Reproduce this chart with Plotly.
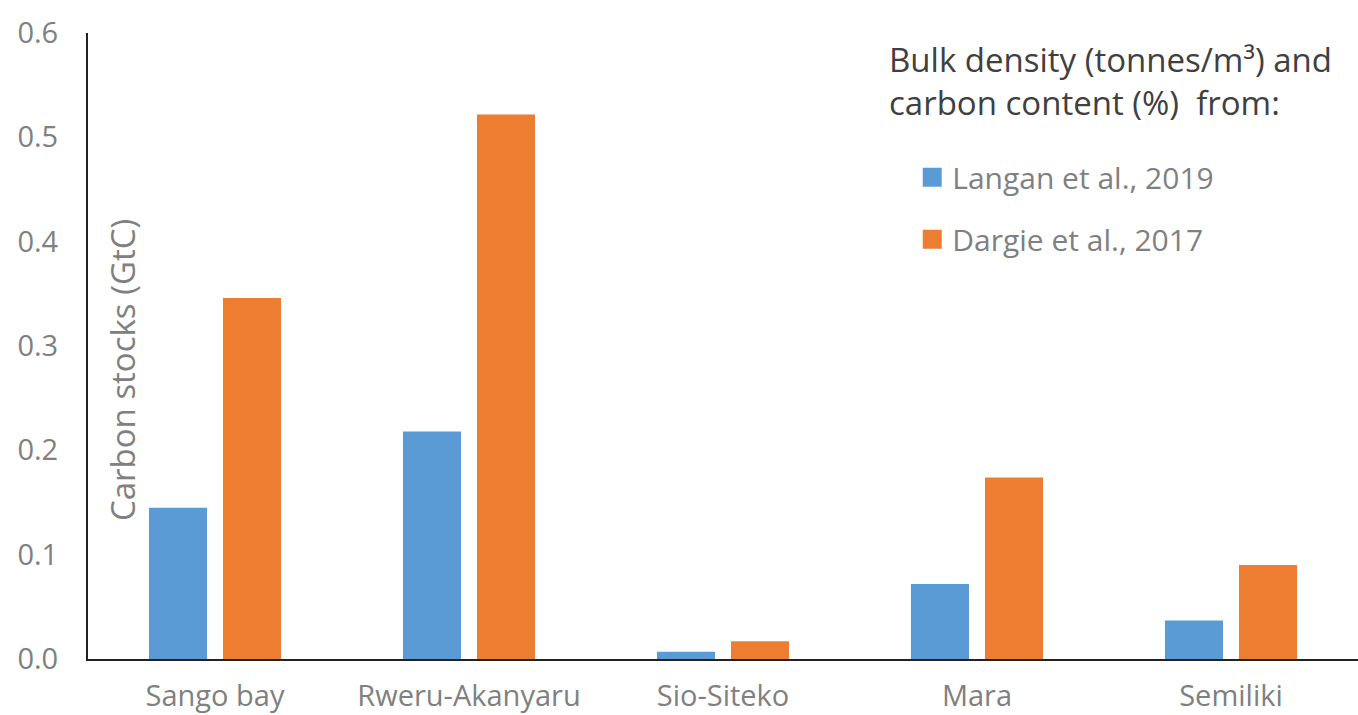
import plotly.graph_objects as go

# Wetland sites and carbon stock estimates (GtC)
sites = ["Sango bay", "Rweru-Akanyaru", "Sio-Siteko", "Mara", "Semiliki"]
langan_2019 = [0.145, 0.218, 0.007, 0.072, 0.037]
dargie_2017 = [0.346, 0.522, 0.017, 0.174, 0.090]
y_ticks = [0.0, 0.1, 0.2, 0.3, 0.4, 0.5, 0.6]
series_names = ["Langan et al., 2019", "Dargie et al., 2017"]

BLUE = "#5B9BD5"
ORANGE = "#ED7D31"
FONT = "Open Sans"
GREY = "#808080"

fig = go.Figure()
for name, vals, col in zip(series_names, [langan_2019, dargie_2017], [BLUE, ORANGE]):
    fig.add_trace(go.Bar(name=name, x=sites, y=vals,
                         marker=dict(color=col, line=dict(width=0)),
                         showlegend=False))

# Legend keys: larger square swatches than the default bar icon
for i, (name, col) in enumerate(zip(series_names, [BLUE, ORANGE])):
    fig.add_trace(go.Scatter(name=name, x=[None], y=[None], mode="markers",
                             marker=dict(symbol="square", size=16, color=col,
                                         line=dict(color=col, width=3)),
                             legendgroup=f"g{i}", showlegend=True,
                             hoverinfo="skip"))

fig.update_layout(
    width=1358, height=715,
    margin=dict(l=88, r=0, t=33, b=56),
    paper_bgcolor="white", plot_bgcolor="white",
    barmode="group", bargap=0.417, bargroupgap=0.216,
    font=dict(family=FONT, color=GREY, size=28),
    showlegend=True,
    legend=dict(x=0.649, y=0.811, xanchor="left", yanchor="top",
                font=dict(size=30, color=GREY, family=FONT),
                bgcolor="rgba(0,0,0,0)", tracegroupgap=20,
                itemwidth=30),
    xaxis=dict(showline=True, linecolor="#222222", linewidth=2,
               showgrid=False, ticks="", zeroline=False, automargin=False,
               tickfont=dict(size=29, color=GREY),
               ticklabelstandoff=10),
    yaxis=dict(range=[0, 0.6], tickvals=y_ticks,
               ticktext=[f"{v:.1f}" for v in y_ticks],
               showline=True, linecolor="#222222", linewidth=2,
               showgrid=False, ticks="", zeroline=False, automargin=False,
               tickfont=dict(size=29, color=GREY),
               ticklabelstandoff=22),
    annotations=[
        dict(text="Carbon stocks (GtC)", textangle=-90,
             x=0.027, y=0.462, xref="paper", yref="paper",
             xanchor="center", yanchor="middle", showarrow=False,
             font=dict(size=33, color=GREY, family=FONT)),
        dict(text="Bulk density (tonnes/m³) and<br>carbon content (%)  from:",
             x=0.629, y=0.997, xref="paper", yref="paper",
             xanchor="left", yanchor="top", align="left", showarrow=False,
             font=dict(size=33, color="#404040", family=FONT)),
    ],
)

fig.write_html("out.html")
